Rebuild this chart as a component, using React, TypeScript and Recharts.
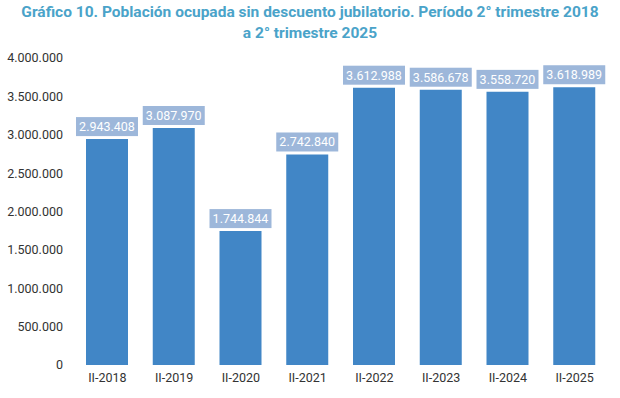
import { BarChart, Bar, XAxis, YAxis, LabelList } from 'recharts';

const periods = ['II-2018', 'II-2019', 'II-2020', 'II-2021', 'II-2022', 'II-2023', 'II-2024', 'II-2025'];
const ocupados = [2943408, 3087970, 1744844, 2742840, 3612988, 3586678, 3558720, 3618989];
const yTicks = [0, 500000, 1000000, 1500000, 2000000, 2500000, 3000000, 3500000, 4000000];

const data = periods.map((p, i) => ({ period: p, value: ocupados[i] }));

const fmt = (v: number) => String(v).replace(/\B(?=(\d{3})+(?!\d))/g, '.');

const ValueLabel = (props: any) => {
  const { x, y, width, value } = props;
  const cx = x + width / 2;
  const w = 62;
  const h = 19;
  const top = y - 3 - h;
  return (
    <g>
      <rect x={cx - w / 2} y={top} width={w} height={h} fill="#9db7da" />
      <text x={cx} y={top + h / 2 + 1} textAnchor="middle" dominantBaseline="middle" fill="#ffffff" fontSize={12.5} fontFamily="Roboto, sans-serif">
        {fmt(value)}
      </text>
    </g>
  );
};

export default function App() {
  return (
    <div style={{ position: 'absolute', left: 0, top: 0, width: 620, height: 398, background: '#fff', fontFamily: 'Roboto, sans-serif' }}>
      <div style={{ position: 'absolute', left: 0, top: 2, width: 620, textAlign: 'center', color: '#4aa3c9', fontWeight: 700, fontSize: 15.5, lineHeight: '21px' }}>
        Gráfico 10. Población ocupada sin descuento jubilatorio. Período 2° trimestre 2018
        <br />a 2° trimestre 2025
      </div>
      <BarChart width={620} height={398} data={data} margin={{ top: 58, right: 12, left: 0, bottom: 3 }}>
        <XAxis dataKey="period" axisLine={false} tickLine={false} height={30} tick={{ fill: '#333', fontSize: 12.5 }} />
        <YAxis width={74} domain={[0, 4000000]} ticks={yTicks} axisLine={false} tickLine={false} tickMargin={5} tickFormatter={fmt} tick={{ fill: '#333', fontSize: 12.5 }} />
        <Bar dataKey="value" fill="#4186c6" barSize={42} isAnimationActive={false}>
          <LabelList dataKey="value" content={ValueLabel} />
        </Bar>
      </BarChart>
    </div>
  );
}
